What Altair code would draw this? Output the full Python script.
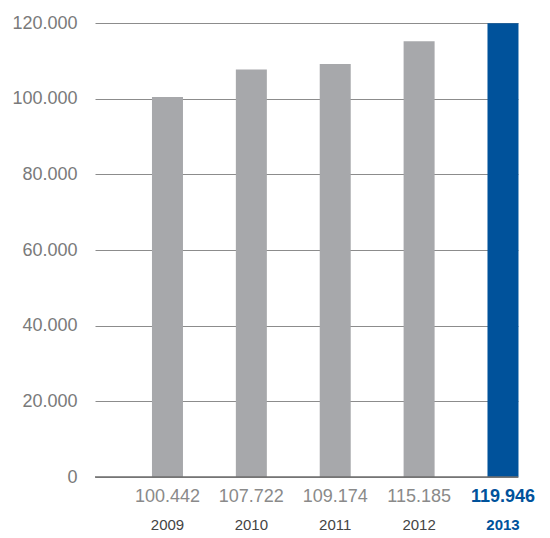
import altair as alt
import pandas as pd

years = [2009, 2010, 2011, 2012, 2013]
values = [100442, 107722, 109174, 115185, 119946]
highlight = [False, False, False, False, True]
y_ticks = [0, 20000, 40000, 60000, 80000, 100000, 120000]

df = pd.DataFrame({"year": years, "value": values, "hl": highlight})

W, H = 423, 454
GRAY_BAR = "#a7a8ab"
BLUE = "#00529b"
FONT = "Liberation Sans"

x_scale = alt.Scale(domain=[2008.136, 2013.179], nice=False, zero=False, padding=0)
y_scale = alt.Scale(domain=[0, 120000], nice=False)

base = alt.Chart(df).transform_calculate(
    label="replace(format(datum.value, ','), ',', '.')",
    ylabel="toString(datum.year)",
)

bars = base.mark_bar(width=31).encode(
    x=alt.X("year:Q", scale=x_scale, axis=None),
    y=alt.Y(
        "value:Q",
        scale=y_scale,
        title=None,
        axis=alt.Axis(
            values=y_ticks,
            labelExpr="replace(format(datum.value, ','), ',', '.')",
            grid=True,
            gridColor="#8c8c8c",
            gridWidth=1,
            domain=False,
            ticks=False,
            labelFont=FONT,
            labelFontSize=18,
            labelColor="#7a7a7a",
            labelPadding=18,
        ),
    ),
    color=alt.condition("datum.hl", alt.value(BLUE), alt.value(GRAY_BAR)),
)

baseline = alt.Chart(pd.DataFrame({"v": [0]})).mark_rule(color="#6e6e6e", strokeWidth=1.5).encode(
    y=alt.Y("v:Q", scale=y_scale),
    x=alt.value(0),
    x2=alt.value(W),
)

def label_layer(field, dy, size, normal_color, bold):
    color = BLUE if bold else normal_color
    flt = "datum.hl" if bold else "!datum.hl"
    return base.transform_filter(flt).mark_text(
        font=FONT, fontSize=size, baseline="middle",
        fontWeight="bold" if bold else "normal", color=color,
    ).encode(
        x=alt.X("year:Q", scale=x_scale),
        y=alt.value(H + dy),
        text=f"{field}:N",
    )

layers = [
    bars,
    baseline,
    label_layer("label", 20, 18, "#8a8a8a", False),
    label_layer("label", 20, 18, "#8a8a8a", True),
    label_layer("ylabel", 48, 15, "#444444", False),
    label_layer("ylabel", 48, 15, "#444444", True),
]

chart = alt.layer(*layers).properties(
    width=W,
    height=H,
    autosize=alt.AutoSizeParams(type="none"),
    padding={"left": 95, "top": 23, "right": 32, "bottom": 61},
).configure_view(stroke=None)

chart.save("out.html", embed_options={"renderer": "svg", "actions": False})
